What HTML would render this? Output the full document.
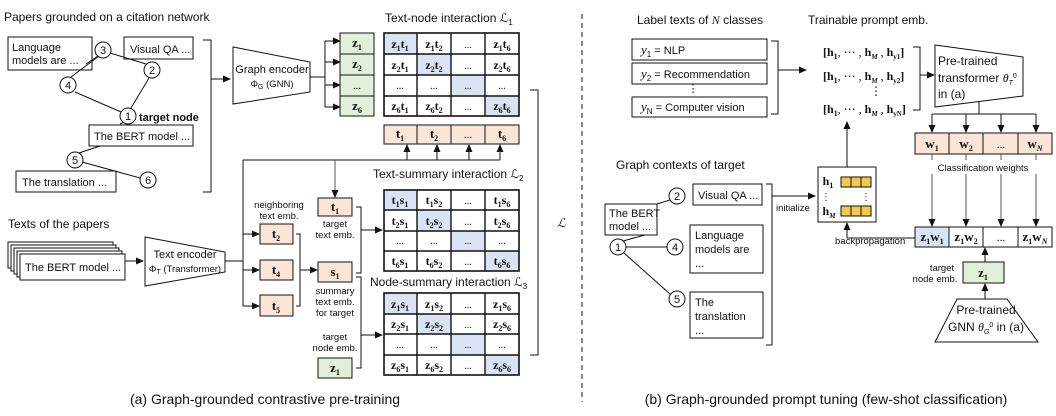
<!DOCTYPE html>
<html><head><meta charset="utf-8"><style>
html,body{margin:0;padding:0;background:#fff}
svg{display:block}
text{font-family:"Liberation Sans",sans-serif;fill:#111}
.m text,text.m,.m tspan{font-family:"Liberation Serif",serif}
.m{font-weight:bold;font-size:13px}
.s{font-size:11px}
.xs{font-size:9.5px}
</style></head><body>
<svg width="1056" height="416" viewBox="0 0 1056 416" xmlns="http://www.w3.org/2000/svg">
<defs><marker id="a" markerWidth="8" markerHeight="8" refX="7" refY="4" orient="auto" markerUnits="userSpaceOnUse"><path d="M0,0.5 L8,4 L0,7.5z" fill="#111"/></marker></defs>
<g stroke="#111" fill="none" stroke-width="1">
<text x="4" y="21" class="s" stroke="none" style="font-size:12px">Papers grounded on a citation network</text>
<rect x="8" y="37" width="84" height="33"/>
<rect x="124" y="37" width="69" height="22"/>
<rect x="89" y="125" width="104" height="21"/>
<rect x="16" y="171" width="100" height="21"/>
<line x1="86" y1="64" x2="98" y2="56"/><line x1="110" y1="53" x2="146" y2="64"/><line x1="71" y1="77" x2="99" y2="56"/>
<line x1="75" y1="92" x2="121" y2="112"/><line x1="149" y1="78" x2="131" y2="108"/>
<line x1="79" y1="153" x2="100" y2="146"/><line x1="82" y1="162" x2="140" y2="178"/><line x1="120" y1="124" x2="124" y2="122"/>
<g fill="#fff"><circle cx="103" cy="50" r="8"/><circle cx="152" cy="70" r="8"/><circle cx="68" cy="85" r="8"/><circle cx="128" cy="116" r="8"/><circle cx="75" cy="160" r="8"/><circle cx="148" cy="180" r="8"/></g>
<path d="M203,40 h8 v152 h-8 M211,79 h2"/><line x1="211" y1="79" x2="230" y2="79" marker-end="url(#a)"/>
<path d="M233,47 L310,62 L310,92 L233,104 Z"/>
<path d="M310,77 H325 M325,41 V107"/>
<line x1="325" y1="41" x2="340" y2="41" marker-end="url(#a)"/><line x1="325" y1="62" x2="340" y2="62" marker-end="url(#a)"/><line x1="325" y1="85" x2="340" y2="85" marker-end="url(#a)"/><line x1="325" y1="107" x2="340" y2="107" marker-end="url(#a)"/>
<rect x="340" y="33" width="34" height="83" fill="#e2efd9"/><path d="M340,54 H374 M340,75 H374 M340,96 H374"/>
<rect x="384" y="33" width="33" height="21" fill="#dae3f3" stroke="none"/><rect x="417" y="54" width="34" height="21" fill="#dae3f3" stroke="none"/><rect x="451" y="75" width="34" height="21" fill="#dae3f3" stroke="none"/><rect x="485" y="96" width="34" height="20" fill="#dae3f3" stroke="none"/>
<rect x="384" y="33" width="135" height="83" stroke-width="1.6"/><path d="M417,33V116M451,33V116M485,33V116M384,54H519M384,75H519M384,96H519" stroke-width="1.4"/>
<rect x="384" y="190" width="33" height="20" fill="#dae3f3" stroke="none"/><rect x="417" y="210" width="34" height="21" fill="#dae3f3" stroke="none"/><rect x="451" y="231" width="34" height="20" fill="#dae3f3" stroke="none"/><rect x="485" y="251" width="34" height="20" fill="#dae3f3" stroke="none"/>
<rect x="384" y="190" width="135" height="81" stroke-width="1.6"/><path d="M417,190V271M451,190V271M485,190V271M384,210H519M384,231H519M384,251H519" stroke-width="1.4"/>
<rect x="384" y="293" width="33" height="21" fill="#dae3f3" stroke="none"/><rect x="417" y="314" width="34" height="20" fill="#dae3f3" stroke="none"/><rect x="451" y="334" width="34" height="21" fill="#dae3f3" stroke="none"/><rect x="485" y="355" width="34" height="20" fill="#dae3f3" stroke="none"/>
<rect x="384" y="293" width="135" height="82" stroke-width="1.6"/><path d="M417,293V375M451,293V375M485,293V375M384,314H519M384,334H519M384,355H519" stroke-width="1.4"/>
<rect x="384" y="125" width="135" height="19" fill="#fbe5d6"/><path d="M417,125V144M451,125V144M485,125V144"/>
<path d="M243,160 H500 M243,160 V306"/>
<line x1="407" y1="160" x2="407" y2="145" marker-end="url(#a)"/><line x1="437" y1="160" x2="437" y2="145" marker-end="url(#a)"/><line x1="469" y1="160" x2="469" y2="145" marker-end="url(#a)"/><line x1="500" y1="160" x2="500" y2="145" marker-end="url(#a)"/>
<line x1="335" y1="160" x2="335" y2="197" marker-end="url(#a)" stroke="#555"/>
<g fill="#fff"><rect x="8" y="242" width="105" height="26"/><rect x="11" y="245" width="105" height="26"/><rect x="14" y="248" width="105" height="26"/><rect x="17" y="251" width="105" height="26"/><rect x="20" y="254" width="105" height="26"/></g>
<line x1="125" y1="261" x2="143" y2="261" marker-end="url(#a)"/>
<path d="M145,237 L225,252 L225,272 L145,286 Z"/>
<line x1="225" y1="261" x2="243" y2="261"/>
<line x1="243" y1="234" x2="259" y2="234" marker-end="url(#a)"/><line x1="243" y1="270" x2="259" y2="270" marker-end="url(#a)"/><line x1="243" y1="306" x2="259" y2="306" marker-end="url(#a)"/>
<g fill="#fbe5d6"><rect x="260" y="224" width="33" height="20"/><rect x="260" y="260" width="33" height="20"/><rect x="260" y="295" width="33" height="21"/><rect x="318" y="198" width="34" height="18"/><rect x="318" y="262" width="34" height="20"/></g>
<rect x="318" y="358" width="34" height="20" fill="#e2efd9"/>
<path d="M296,234 h4 v72 h-4"/><line x1="300" y1="270" x2="317" y2="270" marker-end="url(#a)"/>
<path d="M356,207 h5 v66 h-5 M356,277 h5 v91 h-5"/>
<line x1="361" y1="230" x2="382" y2="230" marker-end="url(#a)"/><line x1="361" y1="335" x2="382" y2="335" marker-end="url(#a)"/>
<path d="M530,90 h8 v265 h-8"/>
<line x1="582" y1="14" x2="582" y2="402" stroke-dasharray="5,4"/>
<rect x="632" y="39" width="135" height="21"/><rect x="632" y="63" width="135" height="21"/><rect x="632" y="97" width="135" height="20"/>
<path d="M771,41 h7 v73 h-7"/><line x1="778" y1="70" x2="806" y2="70" marker-end="url(#a)"/>
<path d="M913,47 h7 v63 h-7"/><line x1="920" y1="75" x2="934" y2="75" marker-end="url(#a)"/>
<path d="M935,45 L1023,57 L1023,96 L935,107 Z"/>
<path d="M979,102 V114 M932,114 H1036"/>
<line x1="932" y1="114" x2="932" y2="132" marker-end="url(#a)"/><line x1="966" y1="114" x2="966" y2="132" marker-end="url(#a)"/><line x1="1001" y1="114" x2="1001" y2="132" marker-end="url(#a)"/><line x1="1036" y1="114" x2="1036" y2="132" marker-end="url(#a)"/>
<rect x="915" y="133" width="137" height="21" fill="#fbe5d6"/><path d="M949,133V154M983,133V154M1018,133V154"/>
<g stroke="#555"><line x1="932" y1="174" x2="932" y2="226" marker-end="url(#a)"/><line x1="966" y1="174" x2="966" y2="226" marker-end="url(#a)"/><line x1="1001" y1="174" x2="1001" y2="226" marker-end="url(#a)"/><line x1="1036" y1="174" x2="1036" y2="226" marker-end="url(#a)"/>
<line x1="932" y1="154" x2="932" y2="160"/><line x1="966" y1="154" x2="966" y2="160"/><line x1="1001" y1="154" x2="1001" y2="160"/><line x1="1036" y1="154" x2="1036" y2="160"/></g>
<rect x="915" y="227" width="34" height="20" fill="#dae3f3" stroke="none"/>
<rect x="915" y="227" width="137" height="20"/><path d="M949,227V247M983,227V247M1018,227V247"/>
<path d="M915,238 H847"/><line x1="847" y1="238" x2="847" y2="223" marker-end="url(#a)"/>
<rect x="818" y="167" width="58" height="55"/>
<g fill="#f2c94c"><rect x="841" y="177" width="10" height="10"/><rect x="851" y="177" width="10" height="10"/><rect x="861" y="177" width="10" height="10"/><rect x="841" y="206" width="10" height="10"/><rect x="851" y="206" width="10" height="10"/><rect x="861" y="206" width="10" height="10"/></g>
<line x1="847" y1="167" x2="847" y2="122" marker-end="url(#a)"/>
<rect x="963" y="262" width="41" height="21" fill="#e2efd9"/>
<line x1="985" y1="262" x2="985" y2="248" marker-end="url(#a)"/><line x1="985" y1="299" x2="985" y2="284" marker-end="url(#a)"/>
<path d="M957,299 L1007,299 L1038,342 L935,342 Z"/>
<rect x="693" y="184" width="69" height="21"/><rect x="605" y="204" width="52" height="31"/><rect x="690" y="225" width="73" height="48"/><rect x="690" y="292" width="73" height="46"/>
<line x1="645" y1="235" x2="623" y2="241"/><line x1="657" y1="204" x2="670" y2="200"/><line x1="626" y1="247" x2="667" y2="247"/><line x1="624" y1="253" x2="670" y2="294"/>
<g fill="#fff"><circle cx="677" cy="196" r="8"/><circle cx="618" cy="247" r="8"/><circle cx="675" cy="247" r="8"/><circle cx="677" cy="299" r="8"/></g>
<path d="M766,184 h6 v161 h-6"/><line x1="772" y1="196" x2="815" y2="196" marker-end="url(#a)"/>
</g>
<g text-anchor="middle" style="font-size:11px">
<text x="103" y="54">3</text><text x="152" y="74">2</text><text x="68" y="89">4</text><text x="128" y="120">1</text><text x="75" y="164">5</text><text x="148" y="184">6</text>
<text x="677" y="200">2</text><text x="618" y="251">1</text><text x="675" y="251">4</text><text x="677" y="303">5</text>
</g>
<g class="s">
<text x="12" y="51">Language</text><text x="12" y="64">models are ...</text>
<text x="130" y="53">Visual QA ...</text>
<text x="139" y="121" font-weight="bold">target node</text>
<text x="94" y="140">The BERT model ...</text>
<text x="22" y="186">The translation ...</text>
<text x="272" y="73" text-anchor="middle">Graph encoder</text>
<text x="272" y="87" text-anchor="middle" class="xs">Φ<tspan font-size="7" dy="2">G</tspan><tspan dy="-2"> (GNN)</tspan></text>
<text x="385" y="22" style="font-size:12px">Text-node interaction ℒ<tspan font-size="8" dy="3">1</tspan></text>
<text x="373" y="178" style="font-size:12px">Text-summary interaction ℒ<tspan font-size="8" dy="3">2</tspan></text>
<text x="370" y="286" style="font-size:12px">Node-summary interaction ℒ<tspan font-size="8" dy="3">3</tspan></text>
<text x="8" y="228" style="font-size:12px">Texts of the papers</text>
<text x="25" y="271">The BERT model ...</text>
<text x="185" y="258" text-anchor="middle">Text encoder</text>
<text x="185" y="272" text-anchor="middle" class="xs">Φ<tspan font-size="7" dy="2">T</tspan><tspan dy="-2"> (Transformer)</tspan></text>
<g class="xs" text-anchor="middle"><text x="279" y="208">neighboring</text><text x="279" y="219">text emb.</text>
<text x="335" y="227">target</text><text x="335" y="238">text emb.</text>
<text x="335" y="294">summary</text><text x="335" y="305">text emb.</text><text x="335" y="316">for target</text>
<text x="335" y="340">target</text><text x="335" y="351">node emb.</text></g>
<text x="557" y="227" style="font-size:12px;font-family:'Liberation Serif',serif;font-style:italic">ℒ</text>
<text x="265" y="404" text-anchor="middle" style="font-size:14px">(a) Graph-grounded contrastive pre-training</text>
<text x="637" y="24" style="font-size:12px">Label texts of <tspan font-family="Liberation Serif" font-style="italic">N</tspan> classes</text>
<text x="808" y="24" style="font-size:12px">Trainable prompt emb.</text>
<text x="641" y="54"><tspan font-family="Liberation Serif" font-style="italic" font-size="13">y</tspan><tspan font-size="8" dy="3">1</tspan><tspan dy="-3"> = NLP</tspan></text>
<text x="641" y="78"><tspan font-family="Liberation Serif" font-style="italic" font-size="13">y</tspan><tspan font-size="8" dy="3">2</tspan><tspan dy="-3"> = Recommendation</tspan></text>
<text x="693" y="92" text-anchor="middle">⋮</text>
<text x="641" y="111"><tspan font-family="Liberation Serif" font-style="italic" font-size="13">y</tspan><tspan font-size="8" dy="3">N</tspan><tspan dy="-3"> = Computer vision</tspan></text>
<g class="m" style="font-size:12px"><text x="823" y="56">[h<tspan font-size="8" dy="3">1</tspan><tspan dy="-3" font-weight="normal">, ⋯ ,</tspan> h<tspan font-size="7" dy="3" font-style="italic">M</tspan><tspan dy="-3" font-weight="normal"> ,</tspan> h<tspan font-size="7" dy="3">y1</tspan><tspan dy="-3">]</tspan></text>
<text x="823" y="80">[h<tspan font-size="8" dy="3">1</tspan><tspan dy="-3" font-weight="normal">, ⋯ ,</tspan> h<tspan font-size="7" dy="3" font-style="italic">M</tspan><tspan dy="-3" font-weight="normal"> ,</tspan> h<tspan font-size="7" dy="3">y2</tspan><tspan dy="-3">]</tspan></text>
<text x="870" y="95" font-weight="normal">⋮</text>
<text x="823" y="113">[h<tspan font-size="8" dy="3">1</tspan><tspan dy="-3" font-weight="normal">, ⋯ ,</tspan> h<tspan font-size="7" dy="3" font-style="italic">M</tspan><tspan dy="-3" font-weight="normal"> ,</tspan> h<tspan font-size="7" dy="3">yN</tspan><tspan dy="-3">]</tspan></text></g>
<text x="938" y="65" style="font-size:12px">Pre-trained</text>
<text x="938" y="82" style="font-size:12px">transformer <tspan font-family="Liberation Serif" font-style="italic">θ</tspan><tspan font-size="7" dy="3" font-style="italic">T</tspan><tspan font-size="7" dy="-7">0</tspan></text>
<text x="938" y="98" style="font-size:12px">in (a)</text>
<text x="983" y="171" text-anchor="middle" class="xs">Classification weights</text>
<text x="616" y="169" style="font-size:12px">Graph contexts of target</text>
<text x="698" y="199">Visual QA ...</text>
<text x="609" y="217">The BERT</text><text x="609" y="230">model ...</text>
<text x="695" y="239">Language</text><text x="695" y="253">models are</text><text x="695" y="267">...</text>
<text x="695" y="306">The</text><text x="695" y="320">translation</text><text x="695" y="334">...</text>
<text x="776" y="211" class="xs">initialize</text>
<text x="835" y="244" class="xs">backpropagation</text>
<text x="942" y="271" class="xs" text-anchor="middle">target</text><text x="935" y="282" class="xs" text-anchor="middle">node emb.</text>
<text x="986" y="314" text-anchor="middle" style="font-size:12px">Pre-trained</text>
<text x="986" y="331" text-anchor="middle" style="font-size:12px">GNN <tspan font-family="Liberation Serif" font-style="italic">θ</tspan><tspan font-size="7" dy="3" font-style="italic">G</tspan><tspan font-size="7" dy="-7">0</tspan><tspan dy="4"> in (a)</tspan></text>
<text x="826" y="404" text-anchor="middle" style="font-size:14px">(b) Graph-grounded prompt tuning (few-shot classification)</text>
</g>
<g class="m" text-anchor="middle">
<text x="357" y="47">z<tspan font-size="8" dy="3">1</tspan></text><text x="357" y="68">z<tspan font-size="8" dy="3">2</tspan></text><text x="357" y="89" font-weight="normal" font-size="11">...</text><text x="357" y="110">z<tspan font-size="8" dy="3">6</tspan></text>
<text x="400" y="138">t<tspan font-size="8" dy="3">1</tspan></text><text x="434" y="138">t<tspan font-size="8" dy="3">2</tspan></text><text x="468" y="138" font-weight="normal" font-size="11">...</text><text x="502" y="138">t<tspan font-size="8" dy="3">6</tspan></text>
<text x="276" y="238">t<tspan font-size="8" dy="3">2</tspan></text><text x="276" y="274">t<tspan font-size="8" dy="3">4</tspan></text><text x="276" y="310">t<tspan font-size="8" dy="3">5</tspan></text>
<text x="335" y="211">t<tspan font-size="8" dy="3">1</tspan></text><text x="335" y="276">s<tspan font-size="8" dy="3">1</tspan></text><text x="335" y="372">z<tspan font-size="8" dy="3">1</tspan></text>
<text x="932" y="148">w<tspan font-size="8" dy="3">1</tspan></text><text x="966" y="148">w<tspan font-size="8" dy="3">2</tspan></text><text x="1001" y="148" font-weight="normal" font-size="11">...</text><text x="1035" y="148">w<tspan font-size="8" dy="3" font-style="italic">N</tspan></text>
<text x="932" y="241">z<tspan font-size="8" dy="3">1</tspan><tspan dy="-3">w</tspan><tspan font-size="8" dy="3">1</tspan></text><text x="966" y="241">z<tspan font-size="8" dy="3">1</tspan><tspan dy="-3">w</tspan><tspan font-size="8" dy="3">2</tspan></text><text x="1001" y="241" font-weight="normal" font-size="11">...</text><text x="1035" y="241">z<tspan font-size="8" dy="3">1</tspan><tspan dy="-3">w</tspan><tspan font-size="8" dy="3" font-style="italic">N</tspan></text>
<text x="983" y="277">z<tspan font-size="8" dy="3">1</tspan></text>
<text x="828" y="185" font-size="12">h<tspan font-size="8" dy="3">1</tspan></text><text x="826" y="200" font-weight="normal" font-size="10">⋮</text><text x="866" y="200" font-weight="normal" font-size="10">⋮</text><text x="829" y="215" font-size="12">h<tspan font-size="7" dy="3" font-style="italic">M</tspan></text>
</g>
<g class="m" text-anchor="middle" style="font-size:12px">
<text x="400" y="48">z<tspan font-size="8" dy="3">1</tspan><tspan dy="-3">t</tspan><tspan font-size="8" dy="3">1</tspan></text><text x="434" y="48">z<tspan font-size="8" dy="3">1</tspan><tspan dy="-3">t</tspan><tspan font-size="8" dy="3">2</tspan></text><text x="468" y="48" font-weight="normal" font-size="10">...</text><text x="502" y="48">z<tspan font-size="8" dy="3">1</tspan><tspan dy="-3">t</tspan><tspan font-size="8" dy="3">6</tspan></text>
<text x="400" y="69">z<tspan font-size="8" dy="3">2</tspan><tspan dy="-3">t</tspan><tspan font-size="8" dy="3">1</tspan></text><text x="434" y="69">z<tspan font-size="8" dy="3">2</tspan><tspan dy="-3">t</tspan><tspan font-size="8" dy="3">2</tspan></text><text x="468" y="69" font-weight="normal" font-size="10">...</text><text x="502" y="69">z<tspan font-size="8" dy="3">2</tspan><tspan dy="-3">t</tspan><tspan font-size="8" dy="3">6</tspan></text>
<text x="400" y="89" font-weight="normal" font-size="10">...</text><text x="434" y="89" font-weight="normal" font-size="10">...</text><text x="468" y="89" font-weight="normal" font-size="10">...</text><text x="502" y="89" font-weight="normal" font-size="10">...</text>
<text x="400" y="110">z<tspan font-size="8" dy="3">6</tspan><tspan dy="-3">t</tspan><tspan font-size="8" dy="3">1</tspan></text><text x="434" y="110">z<tspan font-size="8" dy="3">6</tspan><tspan dy="-3">t</tspan><tspan font-size="8" dy="3">2</tspan></text><text x="468" y="110" font-weight="normal" font-size="10">...</text><text x="502" y="110">z<tspan font-size="8" dy="3">6</tspan><tspan dy="-3">t</tspan><tspan font-size="8" dy="3">6</tspan></text>
<text x="400" y="204">t<tspan font-size="8" dy="3">1</tspan><tspan dy="-3">s</tspan><tspan font-size="8" dy="3">1</tspan></text><text x="434" y="204">t<tspan font-size="8" dy="3">1</tspan><tspan dy="-3">s</tspan><tspan font-size="8" dy="3">2</tspan></text><text x="468" y="204" font-weight="normal" font-size="10">...</text><text x="502" y="204">t<tspan font-size="8" dy="3">1</tspan><tspan dy="-3">s</tspan><tspan font-size="8" dy="3">6</tspan></text>
<text x="400" y="225">t<tspan font-size="8" dy="3">2</tspan><tspan dy="-3">s</tspan><tspan font-size="8" dy="3">1</tspan></text><text x="434" y="225">t<tspan font-size="8" dy="3">2</tspan><tspan dy="-3">s</tspan><tspan font-size="8" dy="3">2</tspan></text><text x="468" y="225" font-weight="normal" font-size="10">...</text><text x="502" y="225">t<tspan font-size="8" dy="3">2</tspan><tspan dy="-3">s</tspan><tspan font-size="8" dy="3">6</tspan></text>
<text x="400" y="244" font-weight="normal" font-size="10">...</text><text x="434" y="244" font-weight="normal" font-size="10">...</text><text x="468" y="244" font-weight="normal" font-size="10">...</text><text x="502" y="244" font-weight="normal" font-size="10">...</text>
<text x="400" y="265">t<tspan font-size="8" dy="3">6</tspan><tspan dy="-3">s</tspan><tspan font-size="8" dy="3">1</tspan></text><text x="434" y="265">t<tspan font-size="8" dy="3">6</tspan><tspan dy="-3">s</tspan><tspan font-size="8" dy="3">2</tspan></text><text x="468" y="265" font-weight="normal" font-size="10">...</text><text x="502" y="265">t<tspan font-size="8" dy="3">6</tspan><tspan dy="-3">s</tspan><tspan font-size="8" dy="3">6</tspan></text>
<text x="400" y="308">z<tspan font-size="8" dy="3">1</tspan><tspan dy="-3">s</tspan><tspan font-size="8" dy="3">1</tspan></text><text x="434" y="308">z<tspan font-size="8" dy="3">1</tspan><tspan dy="-3">s</tspan><tspan font-size="8" dy="3">2</tspan></text><text x="468" y="308" font-weight="normal" font-size="10">...</text><text x="502" y="308">z<tspan font-size="8" dy="3">1</tspan><tspan dy="-3">s</tspan><tspan font-size="8" dy="3">6</tspan></text>
<text x="400" y="328">z<tspan font-size="8" dy="3">2</tspan><tspan dy="-3">s</tspan><tspan font-size="8" dy="3">1</tspan></text><text x="434" y="328">z<tspan font-size="8" dy="3">2</tspan><tspan dy="-3">s</tspan><tspan font-size="8" dy="3">2</tspan></text><text x="468" y="328" font-weight="normal" font-size="10">...</text><text x="502" y="328">z<tspan font-size="8" dy="3">2</tspan><tspan dy="-3">s</tspan><tspan font-size="8" dy="3">6</tspan></text>
<text x="400" y="348" font-weight="normal" font-size="10">...</text><text x="434" y="348" font-weight="normal" font-size="10">...</text><text x="468" y="348" font-weight="normal" font-size="10">...</text><text x="502" y="348" font-weight="normal" font-size="10">...</text>
<text x="400" y="369">z<tspan font-size="8" dy="3">6</tspan><tspan dy="-3">s</tspan><tspan font-size="8" dy="3">1</tspan></text><text x="434" y="369">z<tspan font-size="8" dy="3">6</tspan><tspan dy="-3">s</tspan><tspan font-size="8" dy="3">2</tspan></text><text x="468" y="369" font-weight="normal" font-size="10">...</text><text x="502" y="369">z<tspan font-size="8" dy="3">6</tspan><tspan dy="-3">s</tspan><tspan font-size="8" dy="3">6</tspan></text>
</g>
</svg>
</body></html>
